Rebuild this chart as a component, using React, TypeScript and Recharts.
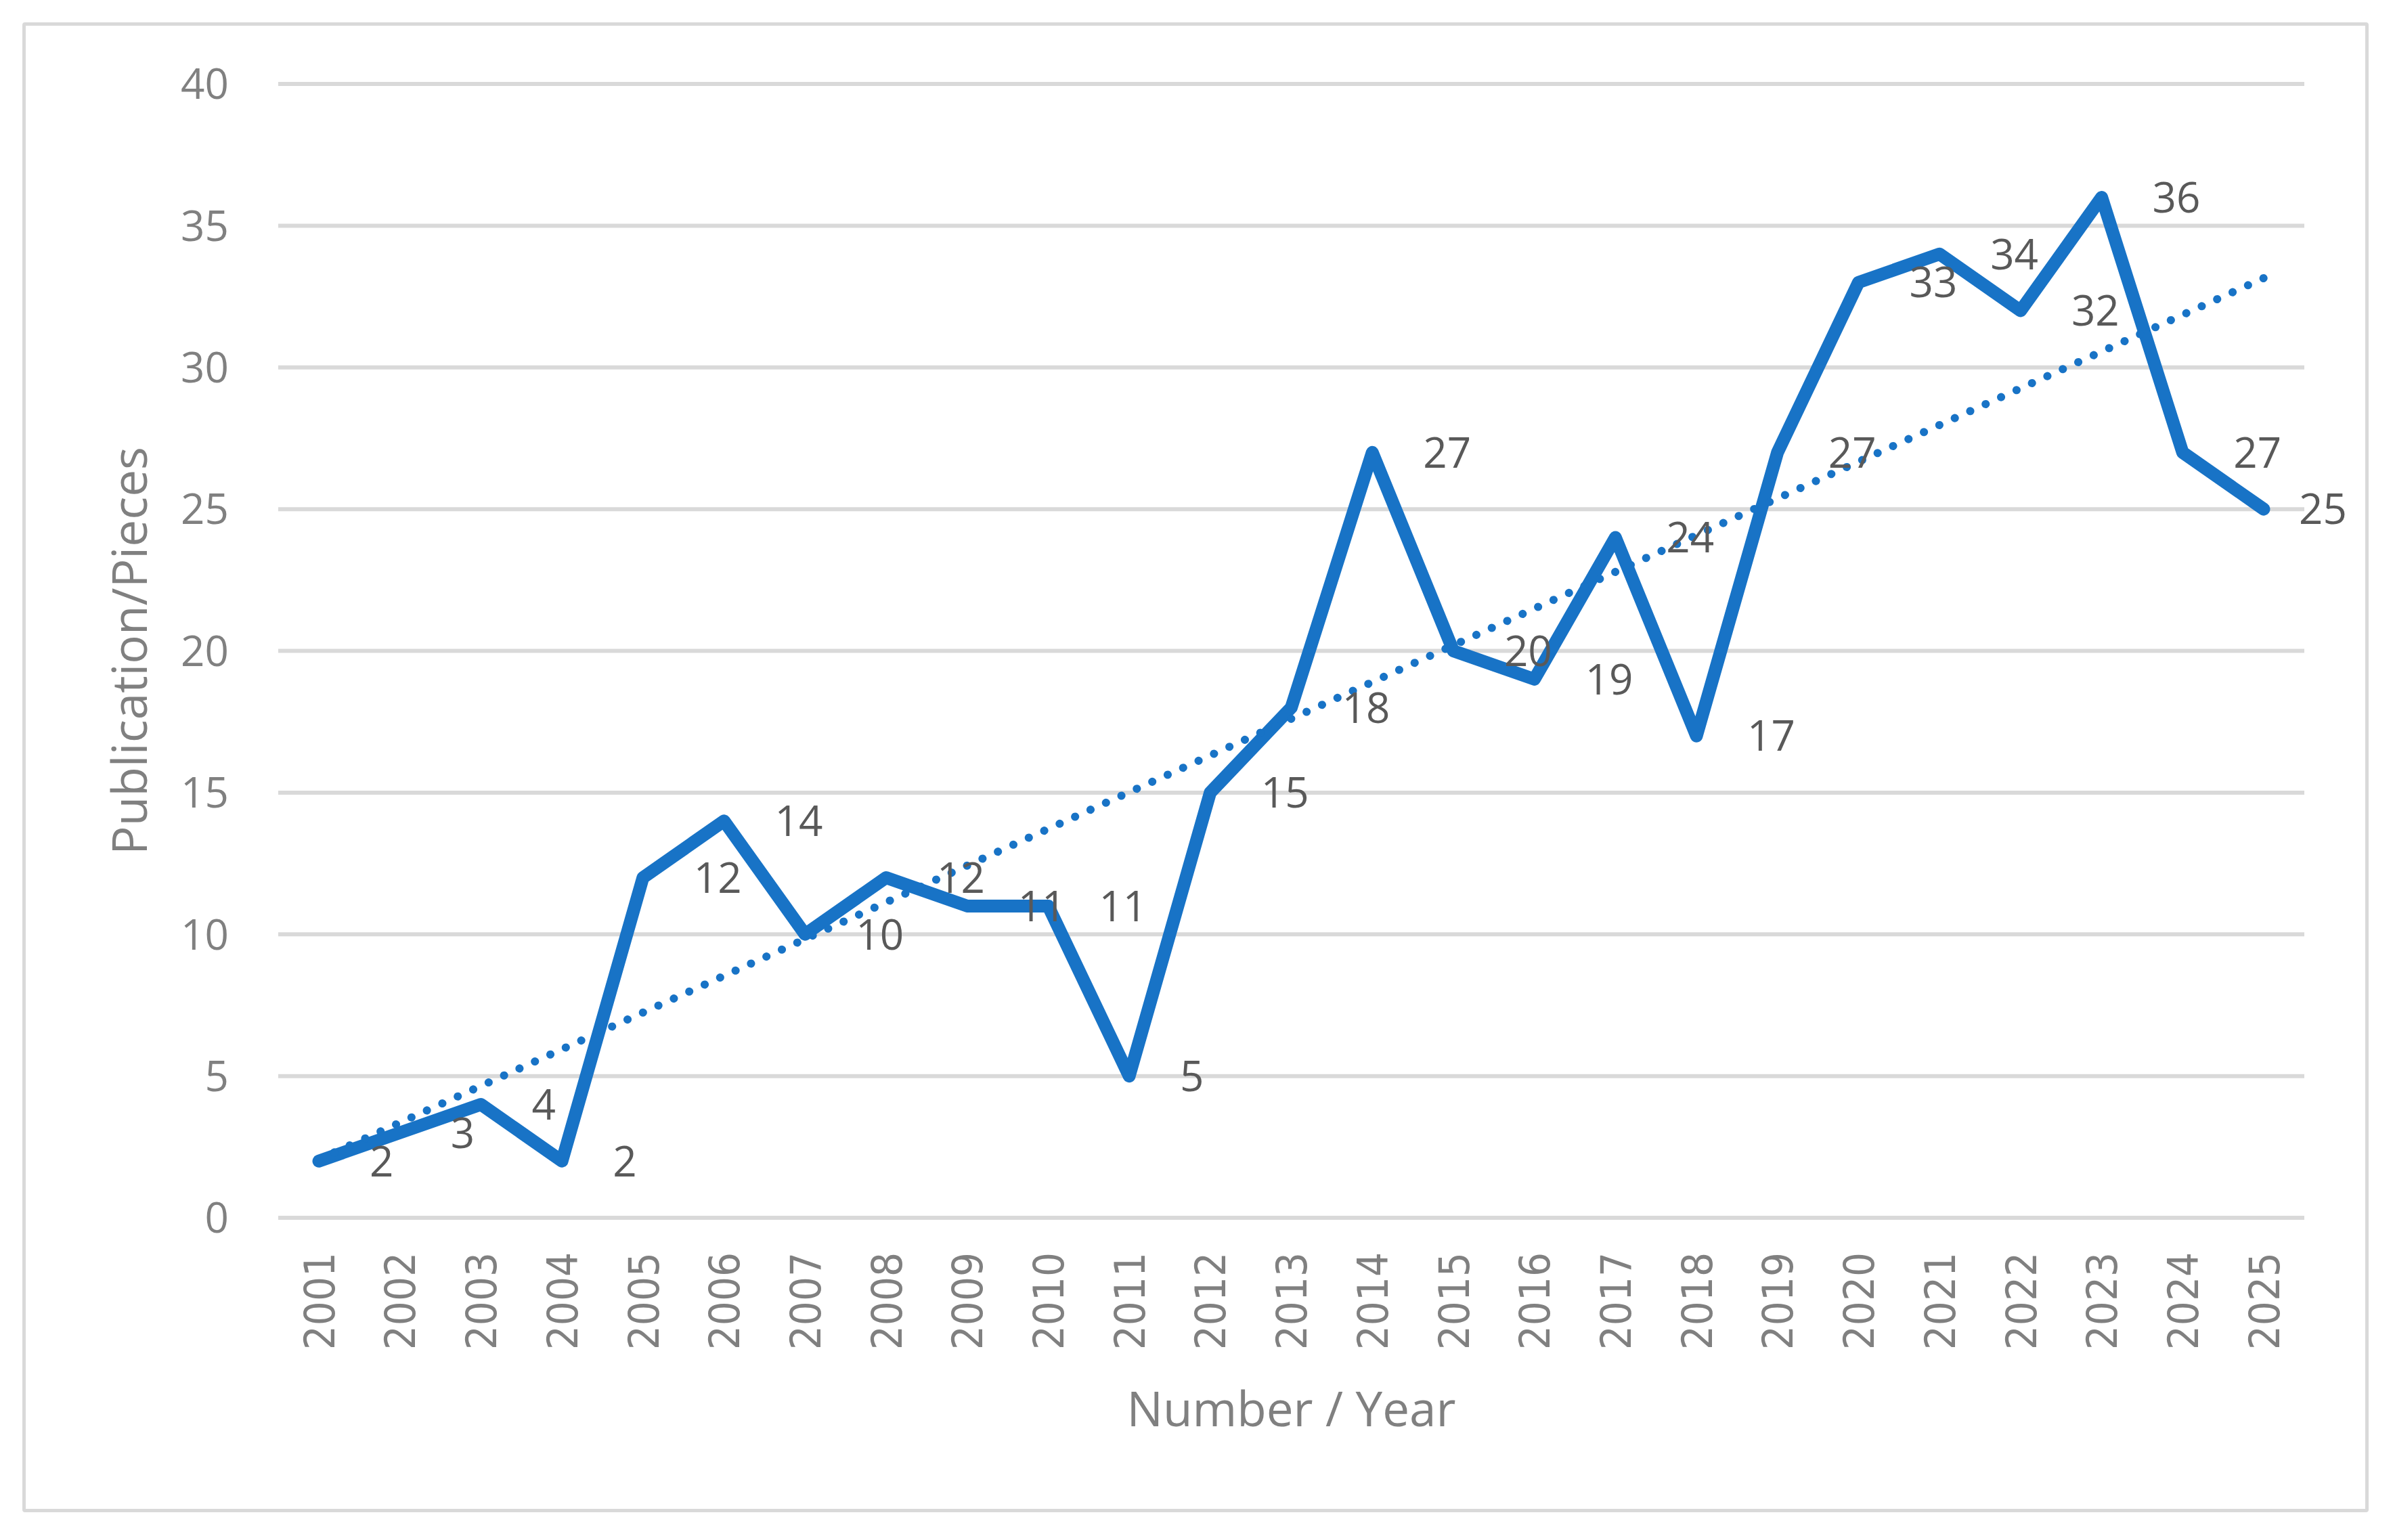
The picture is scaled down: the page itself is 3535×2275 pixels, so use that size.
import React from 'react';
import { LineChart, Line, XAxis, YAxis, CartesianGrid, ReferenceLine, LabelList } from 'recharts';

const years = [
  '2001', '2002', '2003', '2004', '2005', '2006', '2007', '2008', '2009', '2010',
  '2011', '2012', '2013', '2014', '2015', '2016', '2017', '2018', '2019', '2020',
  '2021', '2022', '2023', '2024', '2025',
];
const publications = [2, 3, 4, 2, 12, 14, 10, 12, 11, 11, 5, 15, 18, 27, 20, 19, 24, 17, 27, 33, 34, 32, 36, 27, 25];
const yTicks = [0, 5, 10, 15, 20, 25, 30, 35, 40];
// linear trendline end values (2001 and 2025)
const trendEnds = [2.06, 33.15];

const xTitle = 'Number / Year';
const yTitle = 'Publication/Pieces';

const data = years.map((year, i) => ({ year, count: publications[i] }));

const W = 3535;
const H = 2275;
const BLUE = '#1873C6';
const AXIS_GREY = '#808080';
const LABEL_GREY = '#595959';
const SANS = "'Open Sans', 'Noto Sans', sans-serif";
const TICK_FONT = "'DejaVu Sans Condensed', 'DejaVu Sans', sans-serif";
const LABEL_SIZE = 62;
const LABEL_OFFSET = 75;
const LABEL_RIGHT_LIMIT = 3467;

const YTick = (props: any) => {
  const { x, y, payload } = props;
  return (
    <text x={x} y={y} dy="0.36em" textAnchor="end" fontFamily={SANS} fontSize={62} fill={AXIS_GREY}>
      {payload.value}
    </text>
  );
};

const XTick = (props: any) => {
  const { x, y, payload } = props;
  return (
    <text
      x={x}
      y={y}
      dy="0.36em"
      textAnchor="end"
      transform={`rotate(-90, ${x}, ${y})`}
      fontFamily={TICK_FONT}
      fontSize={63}
      fill={AXIS_GREY}
    >
      {payload.value}
    </text>
  );
};

const DataLabel = (props: any) => {
  const vb = props.viewBox || {};
  const px = Number(vb.x ?? props.x);
  const py = Number(vb.y ?? props.y);
  const value = props.value;
  const textW = String(value).length * 0.572 * LABEL_SIZE;
  let tx = px + LABEL_OFFSET;
  let anchor: 'start' | 'end' = 'start';
  if (tx + textW > LABEL_RIGHT_LIMIT) {
    tx = LABEL_RIGHT_LIMIT;
    anchor = 'end';
  }
  return (
    <text x={tx} y={py} dy="0.36em" textAnchor={anchor} fontFamily={SANS} fontSize={LABEL_SIZE} fill={LABEL_GREY}>
      {value}
    </text>
  );
};

const XTitle = (props: any) => {
  const vb = props.viewBox || { x: 0, y: 0, width: 0, height: 0 };
  return (
    <text x={vb.x + vb.width / 2} y={vb.y + 308} textAnchor="middle" fontFamily={SANS} fontSize={71} fill={AXIS_GREY}>
      {xTitle}
    </text>
  );
};

const YTitle = (props: any) => {
  const vb = props.viewBox || { x: 0, y: 0, width: 0, height: 0 };
  const cx = vb.x + 217;
  const cy = vb.y + vb.height / 2;
  return (
    <text
      x={cx}
      y={cy}
      textAnchor="middle"
      transform={`rotate(-90, ${cx}, ${cy})`}
      fontFamily={SANS}
      fontSize={71}
      fill={AXIS_GREY}
    >
      {yTitle}
    </text>
  );
};

export default function App() {
  return (
    <div style={{ position: 'absolute', left: 0, top: 0, width: W, height: H, background: '#ffffff' }}>
      <div
        style={{
          position: 'absolute',
          left: 33,
          top: 33,
          width: 3466,
          height: 2201,
          border: '5px solid #d9d9d9',
          boxSizing: 'border-box',
          borderRadius: 4,
        }}
      />
      <div style={{ position: 'absolute', left: 0, top: 0 }}>
        <LineChart width={W} height={H} data={data} margin={{ top: 124, right: 131, bottom: 0, left: 0 }}>
          <CartesianGrid vertical={false} stroke="#d9d9d9" strokeWidth={6} />
          <XAxis
            dataKey="year"
            height={476}
            axisLine={false}
            tickLine={false}
            tickSize={0}
            tickMargin={51}
            interval={0}
            padding={{ left: 60, right: 60 }}
            tick={<XTick />}
            label={{ content: <XTitle /> }}
          />
          <YAxis
            width={411}
            domain={[0, 40]}
            ticks={yTicks}
            axisLine={false}
            tickLine={false}
            tickSize={0}
            tickMargin={73}
            tick={<YTick />}
            label={{ content: <YTitle /> }}
          />
          <Line
            type="linear"
            dataKey="count"
            stroke={BLUE}
            strokeWidth={19}
            strokeLinejoin="round"
            strokeLinecap="round"
            dot={false}
            activeDot={false}
            isAnimationActive={false}
          >
            <LabelList dataKey="count" content={<DataLabel />} />
          </Line>
          <ReferenceLine
            segment={[
              { x: years[0], y: trendEnds[0] },
              { x: years[years.length - 1], y: trendEnds[1] },
            ]}
            stroke={BLUE}
            strokeWidth={12}
            strokeDasharray="0.1 24.93"
            strokeLinecap="round"
            ifOverflow="visible"
          />
        </LineChart>
      </div>
    </div>
  );
}
